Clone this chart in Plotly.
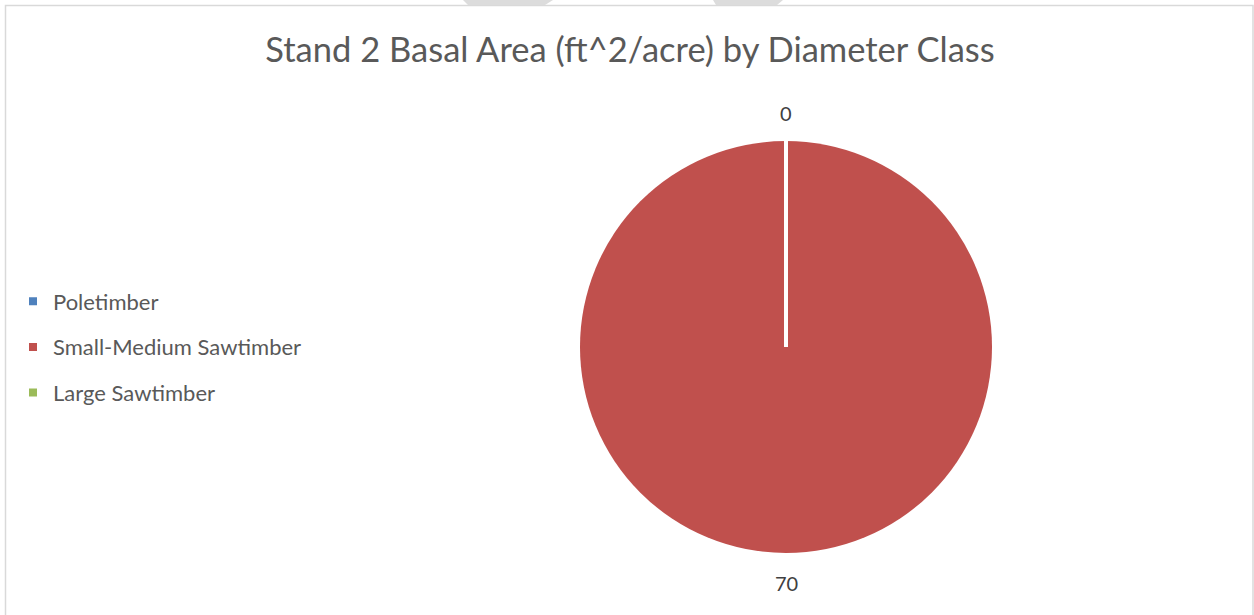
import plotly.graph_objects as go

categories = ["Poletimber", "Small-Medium Sawtimber", "Large Sawtimber"]
values = [0, 70, 0]
colors = ["#4F81BD", "#C0504D", "#9BBB59"]
title_text = "Stand 2 Basal Area (ft^2/acre) by Diameter Class"

W, H = 1254, 615
cx, cy, r = 786, 347, 206

fig = go.Figure()
fig.add_trace(go.Pie(
    labels=categories, values=values, sort=False, direction="clockwise", rotation=0,
    marker=dict(colors=colors, line=dict(color="white", width=0)),
    textinfo="none",
    showlegend=False,
    domain=dict(x=[(cx - r) / W, (cx + r) / W], y=[1 - (cy + r) / H, 1 - (cy - r) / H]),
    hoverinfo="label+value",
))
for i, (c, col) in enumerate(zip(categories, colors)):
    fig.add_trace(go.Scatter(
        x=[None], y=[None], mode="markers", name=c, legendgroup=f"g{i}",
        marker=dict(symbol="square", size=8, color=col), showlegend=True,
    ))

# data labels (Excel "outside end" style): zero slices at the top, main slice at the bottom
label_font = dict(family="Lato", size=20, color="#404040")
zero_vals = [v for v in values if v == 0]
if zero_vals:
    fig.add_annotation(xref="paper", yref="paper", x=cx / W, y=1 - 113 / H,
                       text=str(zero_vals[0]), showarrow=False, font=label_font,
                       xanchor="center", yanchor="middle")
fig.add_annotation(xref="paper", yref="paper", x=cx / W, y=1 - 583 / H,
                   text=str(values[1]), showarrow=False, font=label_font,
                   xanchor="center", yanchor="middle")

# white separator at zero-value slices boundary (top)
fig.add_shape(type="line", xref="paper", yref="paper",
              x0=cx / W, x1=cx / W, y0=1 - cy / H, y1=1 - (cy - r - 2) / H,
              line=dict(color="white", width=4))
# chart border
fig.add_shape(type="rect", xref="paper", yref="paper",
              x0=5.5 / W, x1=1253 / W, y0=-0.05, y1=1 - 5.5 / H,
              line=dict(color="#D9D9D9", width=1.5))
# top grey tabs
for (a, b, c2, d) in [(463, 553, 468, 545), (713, 783, 716, 777)]:
    fig.add_shape(type="path", xref="paper", yref="paper",
                  path=f"M {a/W} 1 L {b/W} 1 L {d/W} {1-5/H} L {c2/W} {1-5/H} Z",
                  fillcolor="#DCDCDC", line=dict(width=0))

fig.update_layout(
    width=W, height=H,
    margin=dict(l=0, r=0, t=0, b=0),
    paper_bgcolor="white", plot_bgcolor="white",
    title=dict(text=title_text, x=(265 + 995) / 2 / W, xanchor="center",
               y=1 - 50 / H, yanchor="middle",
               font=dict(family="Lato", size=34.5, color="#595959")),
    xaxis=dict(visible=False), yaxis=dict(visible=False),
    legend=dict(x=13 / W, y=1 - 347 / H, xanchor="left", yanchor="middle",
                font=dict(family="Lato", size=22, color="#595959"),
                tracegroupgap=14, bgcolor="rgba(0,0,0,0)"),
)
fig.write_html("out.html", config={"displayModeBar": False},
               post_script="document.body.style.margin='0';")
